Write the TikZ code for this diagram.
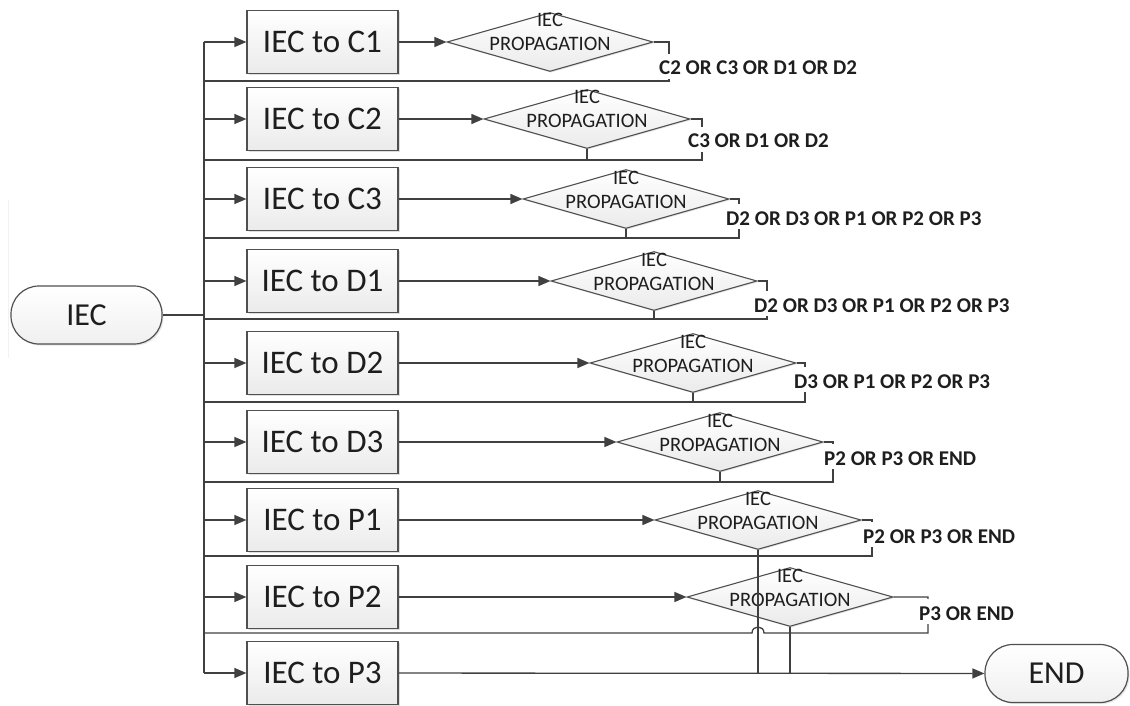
\documentclass[tikz,border=0pt]{standalone}
\usepackage{fontspec}
\setmainfont{Carlito}
\usetikzlibrary{arrows.meta,shapes.geometric,shadows,calc}
\definecolor{lc}{HTML}{404040}
\definecolor{bc}{HTML}{505050}
\definecolor{tc}{HTML}{1E1E1E}
\begin{document}
\begin{tikzpicture}[x=1pt,y=-1pt,
  ln/.style={draw=lc, line width=1.3pt},
  arr/.style={ln, -{Triangle[length=12pt,width=10pt]}},
  procbox/.style={rectangle, draw=bc, line width=1.2pt, top color=white, bottom color=gray!16,
    minimum width=151pt, minimum height=63pt, inner sep=0pt,
    font=\fontsize{33}{36}\selectfont, text=tc,
    drop shadow={shadow xshift=1.5pt, shadow yshift=-1.5pt, opacity=0.25}},
  term/.style={rectangle, rounded corners=28pt, draw=bc, line width=1.2pt, top color=white, bottom color=gray!12,
    minimum height=58pt, inner sep=0pt, font=\fontsize{32}{36}\selectfont, text=tc,
    drop shadow={shadow xshift=1.5pt, shadow yshift=-1.5pt, opacity=0.2}},
  dia/.style={diamond, draw=bc, line width=1.1pt, top color=white, bottom color=gray!16,
    minimum width=206pt, minimum height=59pt, inner sep=0pt,
    drop shadow={shadow xshift=1.2pt, shadow yshift=-1.2pt, opacity=0.2}},
  dtext/.style={font=\fontsize{20.5}{22}\selectfont, text=tc, inner sep=0pt, anchor=base},
  outl/.style={font=\bfseries\fontsize{21}{24}\selectfont, text=tc, fill=white,
    inner xsep=1pt, inner ysep=0pt, text height=21pt, text depth=4pt, anchor=base west},
]
\useasboundingbox (0,0) rectangle (1130,706);
\draw[gray!10, line width=1pt] (8,200) -- (8,358);

\coordinate (trunk) at (204,0);
\node[term, minimum width=151pt] (iec) at (86.5,315) {IEC};
\node[term, minimum width=143pt] (end) at (1056.5,673.5) {END};

% rows: name / y / diamond cx / right end x / feedback y
\foreach \n/\y/\cx/\ex/\fb in {
  C1/42/550/669/81, C2/119/587/702/160, C3/199/626/739/238,
  D1/281/654/767/319, D2/363/693/805/402, D3/442/720/833/482,
  P1/520/758/872/556, P2/597/790/928/633}{
  \node[procbox] (b\n) at (322.5,\y) {IEC to \n};
  \node[dia] (d\n) at (\cx,\y) {};
  \node[dtext] (di\n) at (\cx,\y-15) {IEC};
  \node[dtext] (dp\n) at (\cx,\y+9) {PROPAGATION};
  \coordinate (e\n) at (\ex,\y);
  \coordinate (f\n) at (\ex,\fb);
  \draw[arr] (trunk |- b\n) -- (b\n);
  \draw[arr] (b\n) -- (d\n);
}
\node[procbox] (bP3) at (322.5,673) {IEC to P3};
\draw[arr] (trunk |- bP3) -- (bP3);
\draw[arr] (bP3) -- (end);

% trunk and start
\draw[ln] (trunk |- bC1) -- (trunk |- bP3);
\draw[ln] (iec) -- (trunk |- iec);

% feedback lines
\foreach \n in {C1,C2,C3,D1,D2,D3,P1}{
  \draw[ln] (d\n.east) -- (e\n) -- (f\n) -- (trunk |- f\n);
}
\draw[ln] (dP2.east) -- (eP2) -- (fP2) -- ($(dP1.south |- fP2)+(6,0)$)
  .. controls +(0,-8) and +(0,-8) .. ($(dP1.south |- fP2)+(-6,0)$) -- (trunk |- fP2);

% stubs from diamond bottoms
\foreach \n in {C2,C3,D1,D2,D3}{
  \draw[ln] (d\n.south) -- (d\n.south |- f\n);
}
\draw[ln] (dP1.south) -- (dP1.south |- bP3);
\draw[ln] (dP2.south) -- (dP2.south |- bP3);

% outcome labels: name / x / baseline / text
\foreach \n/\lx/\lb/\txt in {
  C1/658/75/{C2 OR C3 OR D1 OR D2},
  C2/687/148/{C3 OR D1 OR D2},
  C3/725/225/{D2 OR D3 OR P1 OR P2 OR P3},
  D1/753/312/{D2 OR D3 OR P1 OR P2 OR P3},
  D2/793/388/{D3 OR P1 OR P2 OR P3},
  D3/823/465/{P2 OR P3 OR END},
  P1/862/543/{P2 OR P3 OR END},
  P2/918/620/{P3 OR END}}{
  \node[outl] (l\n) at (\lx,\lb) {\txt};
}
\end{tikzpicture}
\end{document}
